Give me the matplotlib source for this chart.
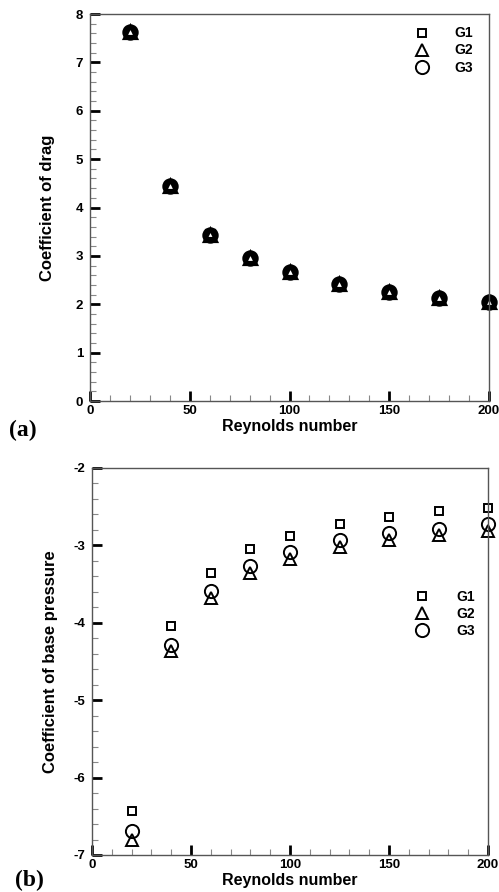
import matplotlib
matplotlib.use("Agg")
import matplotlib.pyplot as plt
from matplotlib.ticker import MultipleLocator

# data
reynolds = [20, 40, 60, 80, 100, 125, 150, 175, 200]

# (a) coefficient of drag, the three grids nearly coincide
cd_g1 = [7.63, 4.45, 3.45, 2.96, 2.67, 2.42, 2.26, 2.14, 2.05]
cd_g2 = [7.62, 4.44, 3.44, 2.95, 2.66, 2.41, 2.25, 2.14, 2.05]
cd_g3 = [7.62, 4.44, 3.44, 2.95, 2.66, 2.41, 2.25, 2.14, 2.05]

# (b) coefficient of base pressure
cpb_g1 = [-6.43, -4.04, -3.36, -3.05, -2.88, -2.72, -2.64, -2.56, -2.52]
cpb_g2 = [-6.80, -4.37, -3.68, -3.36, -3.17, -3.02, -2.93, -2.87, -2.81]
cpb_g3 = [-6.69, -4.29, -3.59, -3.27, -3.08, -2.93, -2.84, -2.79, -2.72]

grid_names = ["G1", "G2", "G3"]

# figure settings
plt.rcParams['font.family'] = ['Liberation Sans', 'DejaVu Sans']
plt.rcParams['font.weight'] = 'bold'
plt.rcParams['axes.unicode_minus'] = False
tick_size = 9.5
xlabel_size = 11.5
ylabel_size = 12
legend_size = 10
spine_color = "#555555"
minor_color = "#888888"

fig = plt.figure(figsize=(4.99, 8.92), dpi=100)
ax_a = fig.add_axes([0.1804, 0.5504, 0.7996, 0.4339])
ax_b = fig.add_axes([0.1844, 0.0415, 0.7936, 0.4339])


def style_axes(ax):
  for side in ['top', 'right', 'left', 'bottom']:
    ax.spines[side].set_color(spine_color)
    ax.spines[side].set_linewidth(1.0)
  ax.xaxis.set_major_locator(MultipleLocator(50))
  ax.xaxis.set_minor_locator(MultipleLocator(10))
  ax.yaxis.set_major_locator(MultipleLocator(1))
  ax.yaxis.set_minor_locator(MultipleLocator(0.2))
  ax.tick_params(which='major', direction='in', length=7, width=2.0, color='black',
                 labelsize=tick_size, top=False, right=False)
  ax.tick_params(which='minor', direction='in', length=4, width=0.8, color=minor_color,
                 top=False, right=False)
  ax.tick_params(axis='x', which='major', pad=3)
  ax.tick_params(axis='y', which='major', pad=5)
  for label in ax.get_xticklabels() + ax.get_yticklabels():
    label.set_fontweight('bold')
  ax.set_xlim(0, 200)


def draw_grids(ax, g1, g2, g3, lw):
  ax.plot(reynolds, g1, linestyle='none', marker='s', markersize=6.2,
          markerfacecolor='none', markeredgecolor='black', markeredgewidth=lw,
          label=grid_names[0], clip_on=False)
  ax.plot(reynolds, g2, linestyle='none', marker='^', markersize=8.0,
          markerfacecolor='none', markeredgecolor='black', markeredgewidth=lw,
          label=grid_names[1], clip_on=False)
  ax.plot(reynolds, g3, linestyle='none', marker='o', markersize=9.5,
          markerfacecolor='none', markeredgecolor='black', markeredgewidth=lw,
          label=grid_names[2], clip_on=False)


# panel (a)
draw_grids(ax_a, cd_g1, cd_g2, cd_g3, 2.3)
style_axes(ax_a)
ax_a.set_ylim(0, 8)
ax_a.set_xlabel("Reynolds number", fontsize=xlabel_size, fontweight='bold', labelpad=1)
ax_a.set_ylabel("Coefficient of drag", fontsize=ylabel_size, fontweight='bold')
ax_a.yaxis.set_label_coords(-0.088, 0.5)
leg_a = ax_a.legend(loc='upper left', bbox_to_anchor=(0.818, 0.968), frameon=False,
                    fontsize=legend_size, handlelength=0.8, handletextpad=1.9,
                    labelspacing=0.22, borderpad=0, borderaxespad=0, numpoints=1)
for h in leg_a.legend_handles:
  h.set_markeredgewidth(1.4)

# panel (b)
draw_grids(ax_b, cpb_g1, cpb_g2, cpb_g3, 1.4)
style_axes(ax_b)
ax_b.set_ylim(-7, -2)
ax_b.set_xlabel("Reynolds number", fontsize=xlabel_size, fontweight='bold', labelpad=1)
ax_b.set_ylabel("Coefficient of base pressure", fontsize=ylabel_size, fontweight='bold')
ax_b.yaxis.set_label_coords(-0.086, 0.5)
ax_b.legend(loc='upper left', bbox_to_anchor=(0.819, 0.684), frameon=False,
            fontsize=legend_size, handlelength=0.8, handletextpad=2.1,
            labelspacing=0.22, borderpad=0, borderaxespad=0, numpoints=1)

# panel letters
fig.text(0.046, 0.517, "(a)", fontsize=17, fontweight='bold', ha='center', va='center',
         family=['Liberation Serif', 'DejaVu Serif'])
fig.text(0.058, 0.0135, "(b)", fontsize=17, fontweight='bold', ha='center', va='center',
         family=['Liberation Serif', 'DejaVu Serif'])

fig.savefig("out.png", dpi=100)
